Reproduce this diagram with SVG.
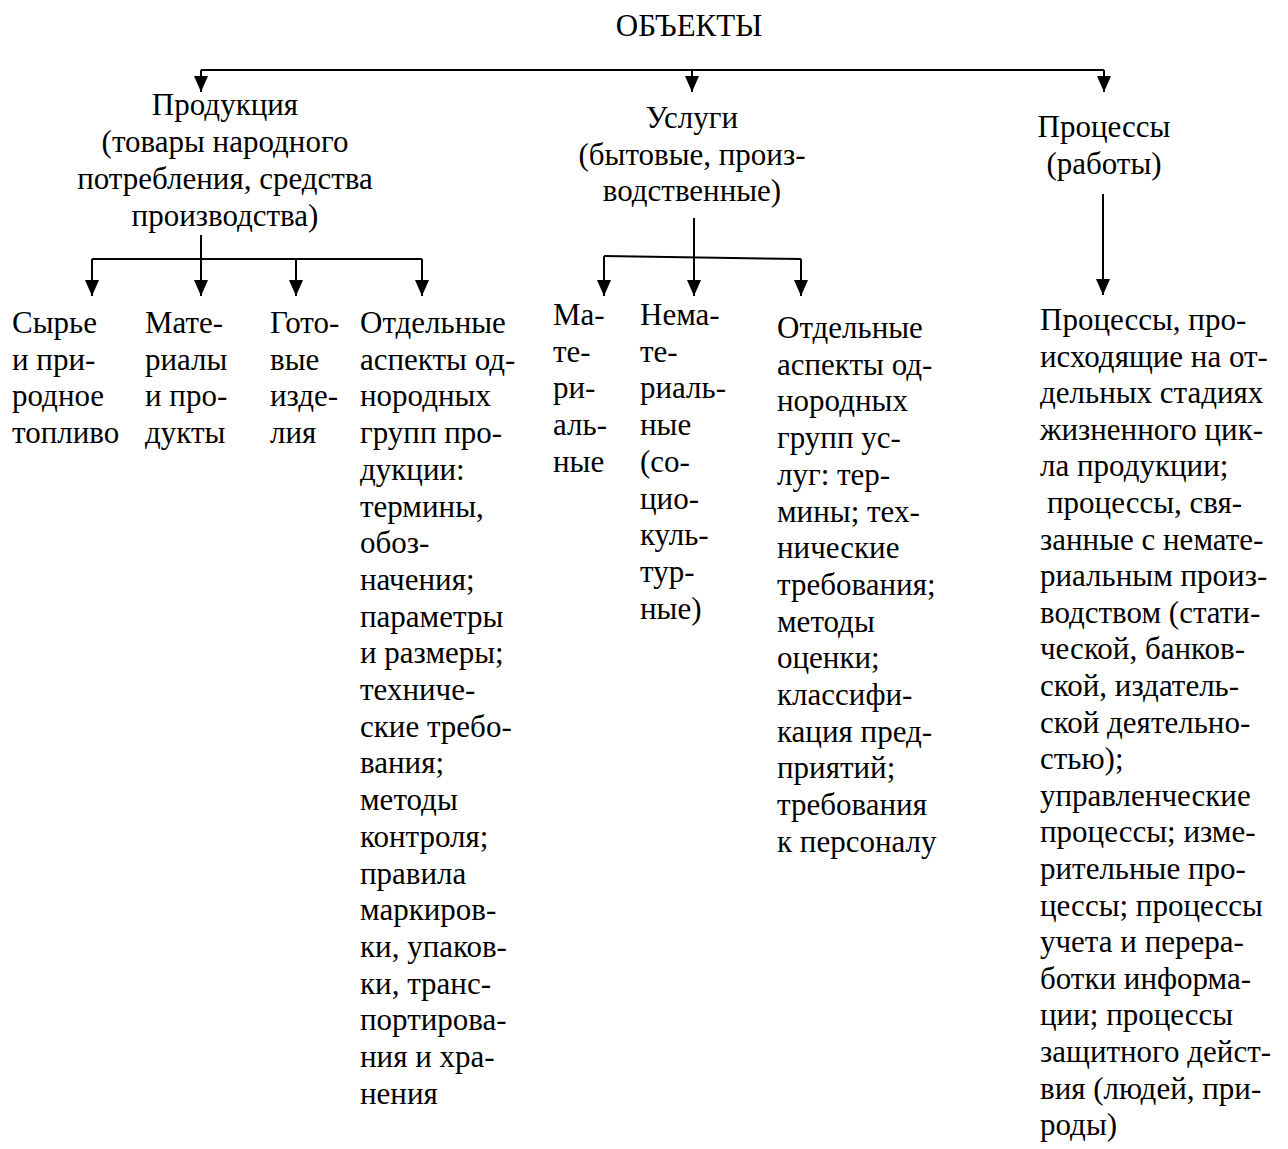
<svg xmlns="http://www.w3.org/2000/svg" width="1288" height="1149" viewBox="0 0 1288 1149">
  <style>
    text { font-family: "Liberation Serif", "Times New Roman", serif; font-size: 31px; fill: #000; }
    .c { text-anchor: middle; }
    .ln { stroke: #000; stroke-width: 2; fill: none; }
  </style>
  <defs>
    <marker id="ah" markerUnits="userSpaceOnUse" markerWidth="16" markerHeight="14" refX="16" refY="7" orient="auto">
      <path d="M0,0 L16,7 L0,14 z" fill="#000"/>
    </marker>
  </defs>
  <rect width="1288" height="1149" fill="#fff"/>

  <!-- connectors -->
  <g id="connectors">
    <!-- root to the three object kinds -->
    <path class="ln" d="M201,70 H1104"/>
    <path class="ln" d="M201,70 V92" marker-end="url(#ah)"/>
    <path class="ln" d="M692,70 V92" marker-end="url(#ah)"/>
    <path class="ln" d="M1104,70 V92" marker-end="url(#ah)"/>
    <!-- products branch -->
    <path class="ln" d="M201,235 V296" marker-end="url(#ah)"/>
    <path class="ln" d="M92,259 H422"/>
    <path class="ln" d="M92,259 V296" marker-end="url(#ah)"/>
    <path class="ln" d="M296,259 V296" marker-end="url(#ah)"/>
    <path class="ln" d="M422,259 V296" marker-end="url(#ah)"/>
    <!-- services branch -->
    <path class="ln" d="M694,218 V296" marker-end="url(#ah)"/>
    <path class="ln" d="M604,256 L801,259"/>
    <path class="ln" d="M604,256 V296" marker-end="url(#ah)"/>
    <path class="ln" d="M801,259 V296" marker-end="url(#ah)"/>
    <!-- processes branch -->
    <path class="ln" d="M1103,194 V295" marker-end="url(#ah)"/>
  </g>

  <g id="root">
    <text class="c" x="689" y="36">ОБЪЕКТЫ</text>
  </g>

  <g id="products">
    <text class="c" x="225" y="115">Продукция</text>
    <text class="c" x="225" y="152">(товары народного</text>
    <text class="c" x="225" y="189">потребления, средства</text>
    <text class="c" x="225" y="226">производства)</text>
  </g>

  <g id="services">
    <text class="c" x="692" y="128">Услуги</text>
    <text class="c" x="692" y="165">(бытовые, произ-</text>
    <text class="c" x="692" y="201">водственные)</text>
  </g>

  <g id="processes">
    <text class="c" x="1104" y="137">Процессы</text>
    <text class="c" x="1104" y="174">(работы)</text>
  </g>

  <g id="raw-materials">
    <text x="12" y="333">Сырье<tspan x="12" dy="36.7">и при-</tspan><tspan x="12" dy="36.7">родное</tspan><tspan x="12" dy="36.7">топливо</tspan></text>
  </g>

  <g id="materials">
    <text x="145" y="333">Мате-<tspan x="145" dy="36.7">риалы</tspan><tspan x="145" dy="36.7">и про-</tspan><tspan x="145" dy="36.7">дукты</tspan></text>
  </g>

  <g id="finished-goods">
    <text x="270" y="333">Гото-<tspan x="270" dy="36.7">вые</tspan><tspan x="270" dy="36.7">изде-</tspan><tspan x="270" dy="36.7">лия</tspan></text>
  </g>

  <g id="product-aspects">
    <text x="360" y="333">Отдельные<tspan x="360" dy="36.7">аспекты од-</tspan><tspan x="360" dy="36.7">нородных</tspan><tspan x="360" dy="36.7">групп про-</tspan><tspan x="360" dy="36.7">дукции:</tspan><tspan x="360" dy="36.7">термины,</tspan><tspan x="360" dy="36.7">обоз-</tspan><tspan x="360" dy="36.7">начения;</tspan><tspan x="360" dy="36.7">параметры</tspan><tspan x="360" dy="36.7">и размеры;</tspan><tspan x="360" dy="36.7">техниче-</tspan><tspan x="360" dy="36.7">ские требо-</tspan><tspan x="360" dy="36.7">вания;</tspan><tspan x="360" dy="36.7">методы</tspan><tspan x="360" dy="36.7">контроля;</tspan><tspan x="360" dy="36.7">правила</tspan><tspan x="360" dy="36.7">маркиров-</tspan><tspan x="360" dy="36.7">ки, упаков-</tspan><tspan x="360" dy="36.7">ки, транс-</tspan><tspan x="360" dy="36.7">портирова-</tspan><tspan x="360" dy="36.7">ния и хра-</tspan><tspan x="360" dy="36.7">нения</tspan></text>
  </g>

  <g id="material-services">
    <text x="553" y="325">Ма-<tspan x="553" dy="36.7">те-</tspan><tspan x="553" dy="36.7">ри-</tspan><tspan x="553" dy="36.7">аль-</tspan><tspan x="553" dy="36.7">ные</tspan></text>
  </g>

  <g id="nonmaterial-services">
    <text x="640" y="325">Нема-<tspan x="640" dy="36.7">те-</tspan><tspan x="640" dy="36.7">риаль-</tspan><tspan x="640" dy="36.7">ные</tspan><tspan x="640" dy="36.7">(со-</tspan><tspan x="640" dy="36.7">цио-</tspan><tspan x="640" dy="36.7">куль-</tspan><tspan x="640" dy="36.7">тур-</tspan><tspan x="640" dy="36.7">ные)</tspan></text>
  </g>

  <g id="service-aspects">
    <text x="777" y="338">Отдельные<tspan x="777" dy="36.7">аспекты од-</tspan><tspan x="777" dy="36.7">нородных</tspan><tspan x="777" dy="36.7">групп ус-</tspan><tspan x="777" dy="36.7">луг: тер-</tspan><tspan x="777" dy="36.7">мины; тех-</tspan><tspan x="777" dy="36.7">нические</tspan><tspan x="777" dy="36.7">требования;</tspan><tspan x="777" dy="36.7">методы</tspan><tspan x="777" dy="36.7">оценки;</tspan><tspan x="777" dy="36.7">классифи-</tspan><tspan x="777" dy="36.7">кация пред-</tspan><tspan x="777" dy="36.7">приятий;</tspan><tspan x="777" dy="36.7">требования</tspan><tspan x="777" dy="36.7">к персоналу</tspan></text>
  </g>

  <g id="process-kinds">
    <text x="1040" y="330">Процессы, про-<tspan x="1040" dy="36.6">исходящие на от-</tspan><tspan x="1040" dy="36.6">дельных стадиях</tspan><tspan x="1040" dy="36.6">жизненного цик-</tspan><tspan x="1040" dy="36.6">ла продукции;</tspan><tspan x="1047" dy="36.6">процессы, свя-</tspan><tspan x="1040" dy="36.6">занные с немате-</tspan><tspan x="1040" dy="36.6">риальным произ-</tspan><tspan x="1040" dy="36.6">водством (стати-</tspan><tspan x="1040" dy="36.6">ческой, банков-</tspan><tspan x="1040" dy="36.6">ской, издатель-</tspan><tspan x="1040" dy="36.6">ской деятельно-</tspan><tspan x="1040" dy="36.6">стью);</tspan><tspan x="1040" dy="36.6">управленческие</tspan><tspan x="1040" dy="36.6">процессы; изме-</tspan><tspan x="1040" dy="36.6">рительные про-</tspan><tspan x="1040" dy="36.6">цессы; процессы</tspan><tspan x="1040" dy="36.6">учета и перера-</tspan><tspan x="1040" dy="36.6">ботки информа-</tspan><tspan x="1040" dy="36.6">ции; процессы</tspan><tspan x="1040" dy="36.6">защитного дейст-</tspan><tspan x="1040" dy="36.6">вия (людей, при-</tspan><tspan x="1040" dy="36.6">роды)</tspan></text>
  </g>
</svg>
